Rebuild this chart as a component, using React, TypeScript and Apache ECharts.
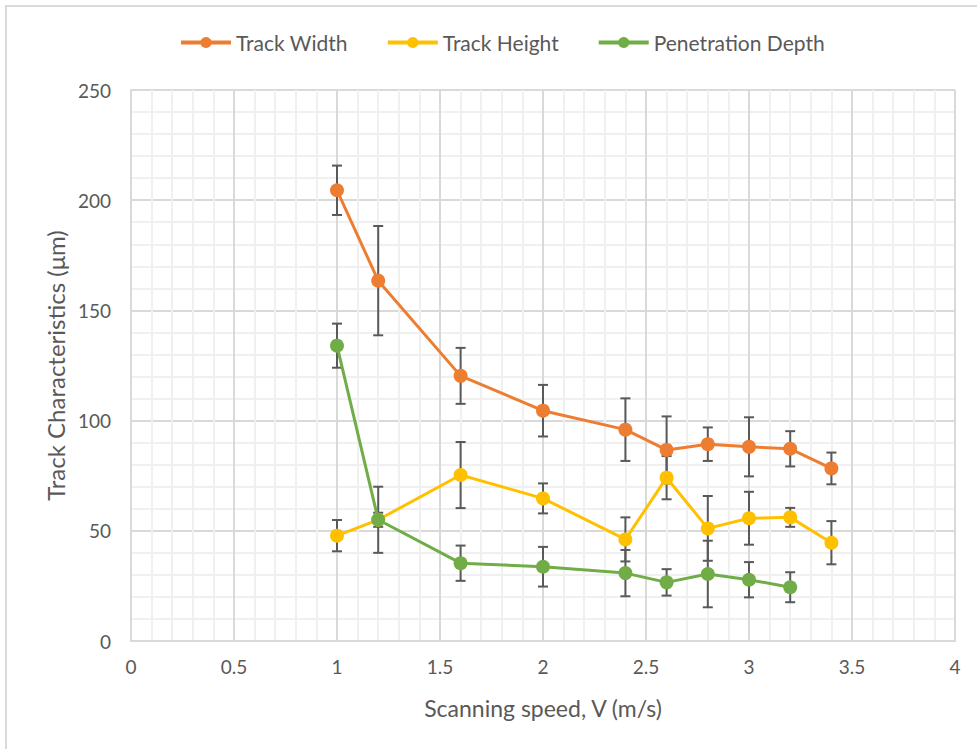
import React, { useEffect, useRef } from "react";
import * as echarts from "echarts";

const speeds = [1, 1.2, 1.6, 2, 2.4, 2.6, 2.8, 3, 3.2, 3.4];
const widthVals = [204.5, 163.5, 120.3, 104.5, 95.9, 86.7, 89.3, 88.1, 87.2, 78.3];
const widthErr = [11.2, 24.8, 12.7, 11.7, 14.2, 15.2, 7.6, 13.4, 8.0, 7.2];
const heightVals = [47.8, 55.0, 75.3, 64.7, 46.1, 74.1, 51.1, 55.7, 56.1, 44.6];
const heightErr = [7.1, 15.0, 15.0, 6.8, 10.0, 9.8, 14.7, 12.0, 4.3, 9.8];
const depthSpeeds = [1, 1.2, 1.6, 2, 2.4, 2.6, 2.8, 3, 3.2];
const depthVals = [134.0, 55.0, 35.3, 33.7, 30.8, 26.6, 30.4, 27.8, 24.4];
const depthErr = [10.0, 3.2, 8.0, 9.0, 10.5, 6.0, 15.1, 8.0, 6.8];

const xTicks = { min: 0, max: 4, interval: 0.5 };
const yTicks = { min: 0, max: 250, interval: 50 };

const ORANGE = "#ED7D31";
const YELLOW = "#FFC000";
const GREEN = "#70AD47";
const ERR = "#595959";
const FONT = "Lato, 'Noto Sans', sans-serif";

function pts(xs: number[], ys: number[]) {
  return xs.map((x, i) => [x, ys[i]]);
}
function errs(xs: number[], ys: number[], es: number[]) {
  return xs.map((x, i) => [x, ys[i] - es[i], ys[i] + es[i]]);
}

function errorSeries(data: number[][]) {
  return {
    type: "custom",
    z: 1,
    silent: true,
    renderItem: (params: any, api: any) => {
      const x = api.value(0);
      const lo = api.coord([x, api.value(1)]);
      const hi = api.coord([x, api.value(2)]);
      const half = 5;
      const style = { stroke: ERR, lineWidth: 2 };
      return {
        type: "group",
        children: [
          { type: "line", shape: { x1: lo[0], y1: lo[1], x2: hi[0], y2: hi[1] }, style },
          { type: "line", shape: { x1: lo[0] - half, y1: lo[1], x2: lo[0] + half, y2: lo[1] }, style },
          { type: "line", shape: { x1: hi[0] - half, y1: hi[1], x2: hi[0] + half, y2: hi[1] }, style },
        ],
      };
    },
    encode: { x: 0, y: [1, 2] },
    data,
  };
}

function lineSeries(name: string, color: string, data: number[][]) {
  return {
    name,
    type: "line",
    z: 3,
    data,
    symbol: "circle",
    symbolSize: 14,
    itemStyle: { color },
    lineStyle: { color, width: 3 },
  };
}

export default function App() {
  const ref = useRef<HTMLDivElement>(null);
  useEffect(() => {
    if (!ref.current) return;
    const chart = echarts.init(ref.current, null, { renderer: "svg" });
    chart.setOption({
      animation: false,
      backgroundColor: "#fff",
      graphic: [
        {
          type: "polyline",
          shape: { points: [[6, 760], [6, 6], [990, 6]] },
          style: { stroke: "#d9d9d9", lineWidth: 2, fill: null },
        },
      ],
      legend: {
        top: 27,
        left: 174,
        itemWidth: 50,
        itemHeight: 14,
        itemGap: 38,
        lineStyle: { width: 4 },
        textStyle: { fontFamily: FONT, fontSize: 21, color: "#595959" },
        data: ["Track Width", "Track Height", "Penetration Depth"],
      },
      grid: { left: 131, right: 22, top: 90, bottom: 108 },
      xAxis: {
        type: "value",
        min: xTicks.min,
        max: xTicks.max,
        interval: xTicks.interval,
        name: "Scanning speed, V (m/s)",
        nameLocation: "middle",
        nameGap: 55,
        nameTextStyle: { fontFamily: FONT, fontSize: 23, color: "#595959" },
        axisLine: { show: true, lineStyle: { color: "#d9d9d9", width: 2 } },
        axisTick: { show: false },
        axisLabel: { fontFamily: FONT, fontSize: 19, color: "#595959", margin: 16 },
        splitLine: { show: true, lineStyle: { color: "#d9d9d9", width: 2 } },
        minorTick: { show: false, splitNumber: 5 },
        minorSplitLine: { show: true, lineStyle: { color: "#f0f0f0", width: 2 } },
      },
      yAxis: {
        type: "value",
        min: yTicks.min,
        max: yTicks.max,
        interval: yTicks.interval,
        name: "Track Characteristics (μm)",
        nameLocation: "middle",
        nameGap: 63,
        nameTextStyle: { fontFamily: FONT, fontSize: 24, color: "#595959" },
        axisLine: { show: true, lineStyle: { color: "#d9d9d9", width: 2 } },
        axisTick: { show: false },
        axisLabel: { fontFamily: FONT, fontSize: 19, color: "#595959", margin: 20 },
        splitLine: { show: true, lineStyle: { color: "#d9d9d9", width: 2 } },
        minorTick: { show: false, splitNumber: 5 },
        minorSplitLine: { show: true, lineStyle: { color: "#f0f0f0", width: 2 } },
      },
      series: [
        errorSeries(errs(speeds, widthVals, widthErr)),
        errorSeries(errs(speeds, heightVals, heightErr)),
        errorSeries(errs(depthSpeeds, depthVals, depthErr)),
        lineSeries("Track Width", ORANGE, pts(speeds, widthVals)),
        lineSeries("Track Height", YELLOW, pts(speeds, heightVals)),
        lineSeries("Penetration Depth", GREEN, pts(depthSpeeds, depthVals)),
      ],
    });
    return () => chart.dispose();
  }, []);
  return (
    <div
      ref={ref}
      style={{ position: "absolute", left: 0, top: 0, width: 977, height: 749 }}
    />
  );
}
